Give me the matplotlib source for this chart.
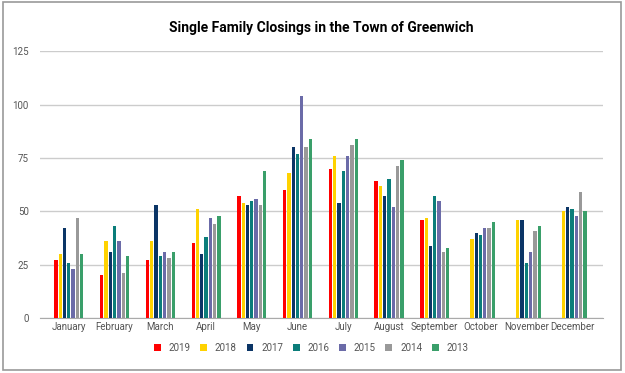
import matplotlib.pyplot as plt
import numpy as np

months = ['January', 'February', 'March', 'April', 'May', 'June', 'July',
          'August', 'September', 'October', 'November', 'December']
years = ['2019', '2018', '2017', '2016', '2015', '2014', '2013']
colors = ['#ff0000', '#ffd200', '#0b3566', '#0b7d7a', '#6b6ba8', '#999999', '#3a9f6a']

# closings per month, one list per year (2019 has no data after September)
y2019 = [27, 20, 27, 35, 57, 60, 70, 64, 46, 0, 0, 0]
y2018 = [30, 36, 36, 51, 54, 68, 76, 62, 47, 37, 46, 50]
y2017 = [42, 31, 53, 30, 53, 80, 54, 57, 34, 40, 46, 52]
y2016 = [26, 43, 29, 38, 55, 77, 69, 65, 57, 39, 26, 51]
y2015 = [23, 36, 31, 47, 56, 104, 76, 52, 55, 42, 31, 48]
y2014 = [47, 21, 28, 44, 53, 80, 81, 71, 31, 42, 41, 59]
y2013 = [30, 29, 31, 48, 69, 84, 84, 74, 33, 45, 43, 50]
series = [y2019, y2018, y2017, y2016, y2015, y2014, y2013]

plt.rcParams['font.family'] = ['Roboto', 'DejaVu Sans']

fig = plt.figure(figsize=(6.25, 3.73), dpi=100)
ax = fig.add_axes([0.064, 0.147, 0.901, 0.716])

x = np.arange(len(months))
slot = 0.094
width = 0.072
for i, (vals, c, lab) in enumerate(zip(series, colors, years)):
    offs = (i - 3) * slot
    ax.bar(x + offs, vals, width=width, color=c, label=lab, zorder=3)

ax.set_xlim(-0.63, 11.68)
ax.set_ylim(0, 125)
ax.set_yticks([0, 25, 50, 75, 100, 125])
ax.set_xticks(x)
ax.set_xticklabels(months)
ax.tick_params(axis='both', length=0, labelsize=7, labelcolor='#555555')
ax.tick_params(axis='y', pad=8)
ax.tick_params(axis='x', pad=3)
ax.grid(axis='y', color='#cccccc', linewidth=1, zorder=0)
for s in ['top', 'right', 'left']:
    ax.spines[s].set_visible(False)
ax.spines['bottom'].set_color('#aaaaaa')

ax.set_title('Single Family Closings in the Town of Greenwich', fontsize=10,
             fontweight='bold', color='#000000', pad=14)

fig.legend(loc='center', bbox_to_anchor=(0.498, 0.067), ncol=7, frameon=False,
           fontsize=7, handlelength=0.7, handleheight=0.7, columnspacing=1.0,
           handletextpad=0.8, labelcolor='#555555')

# grey frame round the whole image
fig.patches.append(plt.Rectangle((0.004, 0.008), 0.99, 0.986, transform=fig.transFigure,
                                 fill=False, edgecolor='#999999', linewidth=1.2))

fig.savefig('out.png', dpi=100)
